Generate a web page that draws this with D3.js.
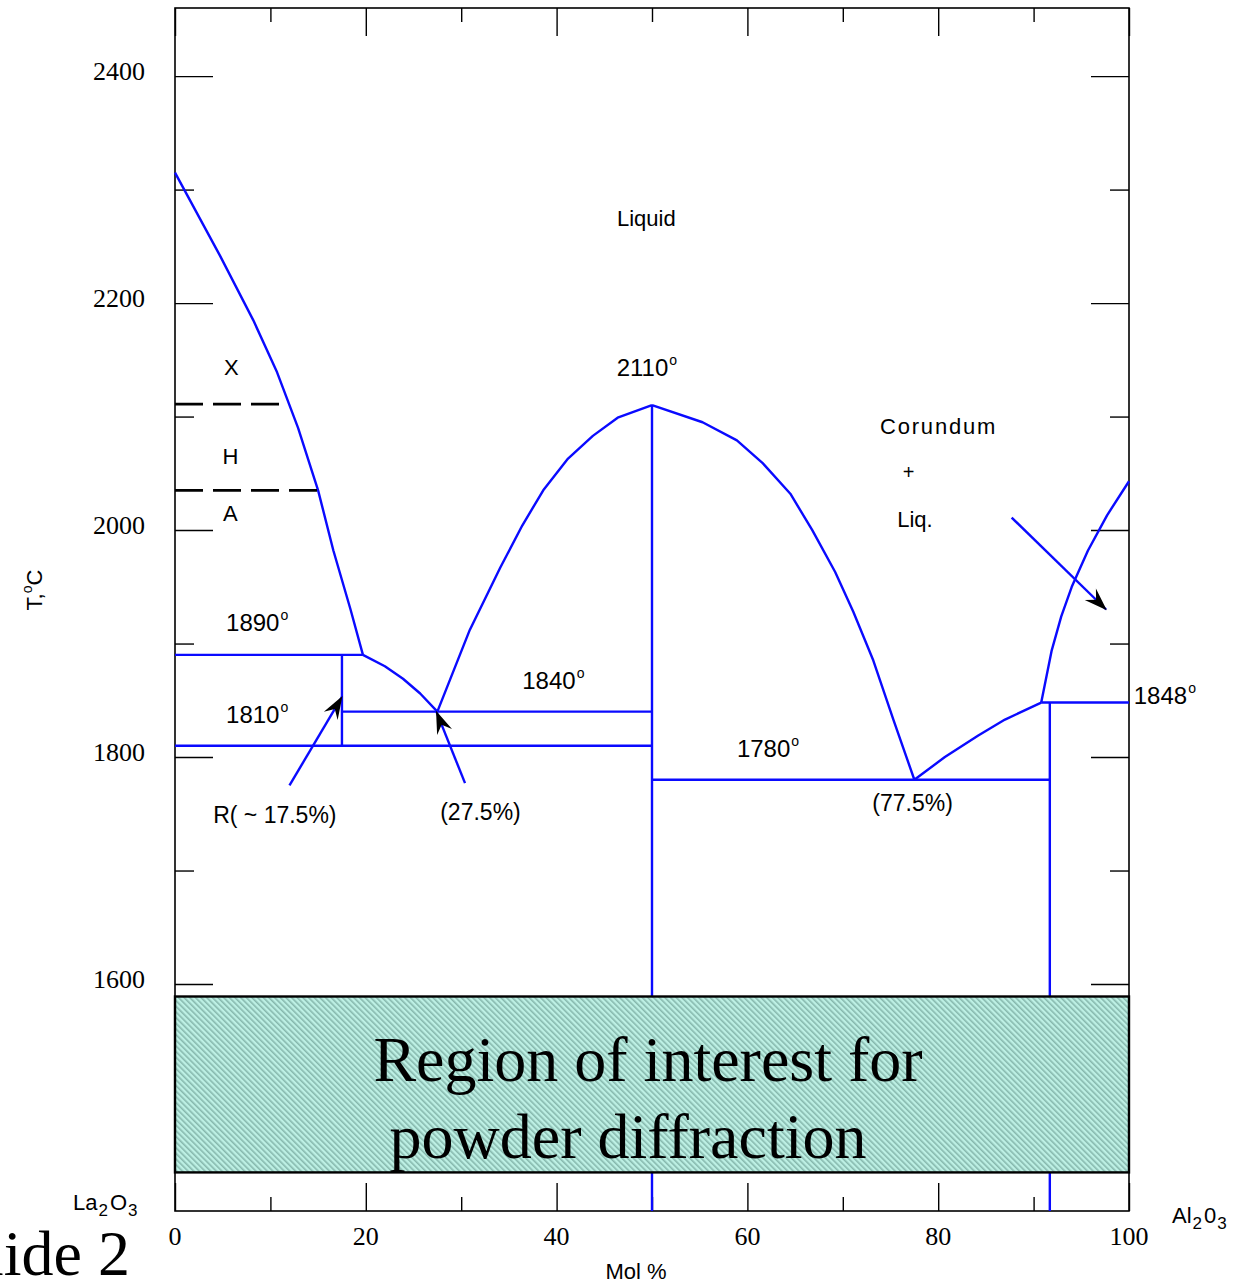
<!DOCTYPE html>
<html>
<head>
<meta charset="utf-8">
<script src="https://cdn.jsdelivr.net/npm/d3@7"></script>
<style>
  html, body { margin: 0; padding: 0; background: #fff; }
  svg { display: block; }
</style>
</head>
<body>
<svg id="chart" width="1236" height="1283"></svg>
<script>
// La2O3 – Al2O3 phase diagram (composition in mol % Al2O3, temperature in °C)

const xDomain = [0, 100];
const yDomain = [1400, 2460];
const xMajorTicks = [0, 20, 40, 60, 80, 100];
const xMinorTicks = [10, 30, 50, 70, 90];
const yMajorTicks = [1600, 1800, 2000, 2200, 2400];
const yMinorTicks = [1500, 1700, 1900, 2100, 2300];

// Liquidus curves [mol %, T]
const liquidusLa2O3 = [[0, 2315], [4.7, 2242], [8.2, 2185], [10.7, 2139], [12.9, 2090],
  [15.0, 2035], [16.6, 1982], [18.4, 1930], [19.7, 1890]];
const liquidusR = [[19.7, 1890], [22.0, 1880], [23.9, 1869], [25.7, 1856], [27.5, 1840]];
const liquidusPerovskiteLeft = [[27.5, 1840], [30.9, 1912], [34.1, 1967], [36.4, 2004],
  [38.6, 2035], [41.2, 2063], [43.8, 2083], [46.4, 2099], [50, 2110]];
const liquidusPerovskiteRight = [[50, 2110], [55.3, 2095], [58.9, 2079], [61.6, 2059],
  [64.5, 2032], [66.8, 2000], [69.2, 1963], [71.1, 1928], [73.2, 1885], [75.3, 1833], [77.5, 1780]];
const liquidusBetaAlumina = [[77.5, 1780], [80.7, 1800], [84.2, 1819], [87.0, 1833], [90.8, 1848]];
const liquidusCorundum = [[90.8, 1848], [91.9, 1894], [92.9, 1924], [94.0, 1950],
  [95.7, 1982], [97.7, 2013], [100, 2043]];

// Invariant lines and compound lines [[x1, T1], [x2, T2]]
const tieLines = [
  [[0, 1890], [19.7, 1890]],
  [[0, 1810], [50, 1810]],
  [[17.5, 1890], [17.5, 1810]],
  [[17.5, 1840], [50, 1840]],
  [[50, 2110], [50, 1400]],
  [[50, 1780], [91.7, 1780]],
  [[91.7, 1848], [91.7, 1400]],
  [[90.8, 1848], [100, 1848]]
];

// La2O3 polymorph transitions (dashed)
const transitionLines = [
  [[0, 2111], [11.9, 2111]],
  [[0, 2035], [15.0, 2035]]
];

// Pointer arrows [from, to]
const arrows = [
  [[12.0, 1775], [17.5, 1853]],
  [[30.4, 1777], [27.4, 1840]],
  [[87.7, 2011], [97.6, 1930]]
];

// Region of interest (temperature band)
const roiBand = [1434, 1589];
const roiLines = ["Region of interest for", "powder diffraction"];

// Plain annotations [text, x, T, anchor, size]
const phaseLabels = [
  ["Liquid", 49.4, 2275, "middle", 22],
  ["X", 5.9, 2144, "middle", 22],
  ["H", 5.8, 2065, "middle", 22],
  ["A", 5.8, 2015, "middle", 22],
  ["+", 76.9, 2051, "middle", 20],
  ["Liq.", 75.7, 2010, "start", 22],
  ["R( ~ 17.5%)", 4.0, 1749, "start", 23],
  ["(27.5%)", 27.8, 1751.5, "start", 23],
  ["(77.5%)", 73.1, 1760, "start", 23]
];
// Temperature annotations with degree sign [value, x, T]
const tempLabels = [
  ["2110", 46.3, 2143],
  ["1890", 5.35, 1919],
  ["1810", 5.35, 1838],
  ["1840", 36.4, 1868],
  ["1780", 58.9, 1808],
  ["1848", 100.5, 1854]
];

const SANS = '"Liberation Sans", Arial, sans-serif';
const SERIF = '"Liberation Serif", "Times New Roman", serif';
const BLUE = "#0a0aff";

const svg = d3.select("#chart");
const x = d3.scaleLinear().domain(xDomain).range([175, 1129]);
const y = d3.scaleLinear().domain(yDomain).range([1211, 8]);

// hatch pattern for the highlighted band
const defs = svg.append("defs");
const pat = defs.append("pattern")
  .attr("id", "hatch").attr("patternUnits", "userSpaceOnUse")
  .attr("width", 4).attr("height", 4)
  .attr("patternTransform", "rotate(-45)");
pat.append("rect").attr("width", 4).attr("height", 4).attr("fill", "#bdf0e4");
pat.append("rect").attr("width", 1.6).attr("height", 4).attr("fill", "#86b8ad");

// barbed arrowhead
defs.append("marker")
  .attr("id", "head").attr("markerUnits", "userSpaceOnUse")
  .attr("viewBox", "-26 -10 30 20").attr("refX", 0).attr("refY", 0)
  .attr("markerWidth", 30).attr("markerHeight", 20).attr("orient", "auto")
  .append("path").attr("d", "M1,0 L-22,-8 L-14,0 L-22,8 Z").attr("fill", "#000");

// axes with inward ticks (labels drawn separately below)
function styleAxis(g) {
  g.select(".domain").remove();
  g.selectAll(".tick text").remove();
  g.selectAll(".tick line").attr("stroke", "#000").attr("stroke-width", 1.4);
}
const axisSpecs = [
  [d3.axisLeft(y), yMajorTicks, 38, `translate(${x(0)},0)`],
  [d3.axisLeft(y), yMinorTicks, 19, `translate(${x(0)},0)`],
  [d3.axisRight(y), yMajorTicks, 38, `translate(${x(100)},0)`],
  [d3.axisRight(y), yMinorTicks, 19, `translate(${x(100)},0)`],
  [d3.axisBottom(x), xMajorTicks, 28, `translate(0,${y(1400)})`],
  [d3.axisBottom(x), xMinorTicks, 14, `translate(0,${y(1400)})`],
  [d3.axisTop(x), xMajorTicks, 28, `translate(0,${y(2460)})`],
  [d3.axisTop(x), xMinorTicks, 14, `translate(0,${y(2460)})`]
];
axisSpecs.forEach(([ax, vals, len, tr]) => {
  svg.append("g").attr("transform", tr)
    .call(ax.tickValues(vals).tickSize(-len))
    .call(styleAxis);
});

// tick labels
svg.append("g").selectAll("text").data(yMajorTicks).join("text")
  .attr("font-family", SERIF).attr("font-size", 26).attr("fill", "#000")
  .attr("text-anchor", "end").attr("x", x(0) - 30).attr("y", d => y(d)).attr("dy", "0.14em")
  .text(d => d);
svg.append("g").selectAll("text").data(xMajorTicks).join("text")
  .attr("font-family", SERIF).attr("font-size", 26).attr("fill", "#000")
  .attr("text-anchor", "middle").attr("x", d => x(d)).attr("y", y(1400) + 34)
  .text(d => d);

// frame
svg.append("rect")
  .attr("x", x(0)).attr("y", y(2460))
  .attr("width", x(100) - x(0)).attr("height", y(1400) - y(2460))
  .attr("fill", "none").attr("stroke", "#000").attr("stroke-width", 1.6);

// phase boundaries
const line = d3.line().x(d => x(d[0])).y(d => y(d[1]));
const curves = [liquidusLa2O3, liquidusR, liquidusPerovskiteLeft, liquidusPerovskiteRight,
  liquidusBetaAlumina, liquidusCorundum];
svg.append("g").selectAll("path").data(curves.concat(tieLines)).join("path")
  .attr("d", line).attr("fill", "none").attr("stroke", BLUE)
  .attr("stroke-width", 2.4).attr("stroke-linejoin", "round");

svg.append("g").selectAll("path").data(transitionLines).join("path")
  .attr("d", line).attr("fill", "none").attr("stroke", "#000")
  .attr("stroke-width", 2.6).attr("stroke-dasharray", "28,10");

svg.append("g").selectAll("path").data(arrows).join("path")
  .attr("d", line).attr("fill", "none").attr("stroke", BLUE)
  .attr("stroke-width", 2.4).attr("marker-end", "url(#head)");

// highlighted band
svg.append("rect")
  .attr("x", x(0)).attr("y", y(roiBand[1]))
  .attr("width", x(100) - x(0)).attr("height", y(roiBand[0]) - y(roiBand[1]))
  .attr("fill", "url(#hatch)").attr("stroke", "#000").attr("stroke-width", 2.4);
svg.append("g").selectAll("text").data(roiLines).join("text")
  .attr("font-family", SERIF).attr("font-size", 64).attr("fill", "#000")
  .attr("text-anchor", "middle")
  .attr("x", (d, i) => i === 0 ? 648 : 628)
  .attr("y", (d, i) => i === 0 ? 1081 : 1158)
  .text(d => d);

// annotations
svg.append("g").selectAll("text").data(phaseLabels).join("text")
  .attr("font-family", SANS).attr("fill", "#000")
  .attr("font-size", d => d[4]).attr("text-anchor", d => d[3])
  .attr("x", d => x(d[1])).attr("y", d => y(d[2])).attr("dy", "0.36em")
  .text(d => d[0]);

svg.append("text").attr("font-family", SANS).attr("fill", "#000").attr("font-size", 22)
  .attr("x", x(73.9)).attr("y", y(2091.6)).attr("dy", "0.36em")
  .attr("letter-spacing", 1.8).text("Corundum");

const tl = svg.append("g").selectAll("text").data(tempLabels).join("text")
  .attr("font-family", SANS).attr("fill", "#000").attr("font-size", 24)
  .attr("x", d => x(d[1])).attr("y", d => y(d[2])).attr("dy", "0.36em");
tl.append("tspan").text(d => d[0]);
tl.append("tspan").attr("font-size", 14).attr("dx", 1).attr("dy", -11).text("o");

// axis titles and end members
const yTitle = svg.append("text").attr("font-family", SANS).attr("font-size", 22).attr("fill", "#000")
  .attr("transform", "translate(42,590) rotate(-90)").attr("text-anchor", "middle");
yTitle.append("tspan").text("T,");
yTitle.append("tspan").attr("font-size", 14).attr("dy", -10).text("o");
yTitle.append("tspan").attr("dy", 10).text("C");

svg.append("text").attr("font-family", SANS).attr("font-size", 22).attr("fill", "#000")
  .attr("x", 636).attr("y", 1279).attr("text-anchor", "middle").text("Mol %");

function formula(xp, yp, parts) {
  const t = svg.append("text").attr("font-family", SANS).attr("font-size", 22).attr("fill", "#000")
    .attr("x", xp).attr("y", yp);
  parts.forEach(([s, sub]) => {
    t.append("tspan").attr("font-size", sub ? 17 : 22).attr("dy", sub ? 6 : -6)
      .attr("dx", sub ? 1 : 2).text(s);
  });
}
formula(71, 1216, [["La", false], ["2", true], ["O", false], ["3", true]]);
formula(1170, 1229, [["Al", false], ["2", true], ["0", false], ["3", true]]);

// slide footer
svg.append("text").attr("font-family", SERIF).attr("font-size", 64).attr("fill", "#000")
  .attr("x", 130).attr("y", 1275).attr("text-anchor", "end").text("Slide 2");
</script>
</body>
</html>
